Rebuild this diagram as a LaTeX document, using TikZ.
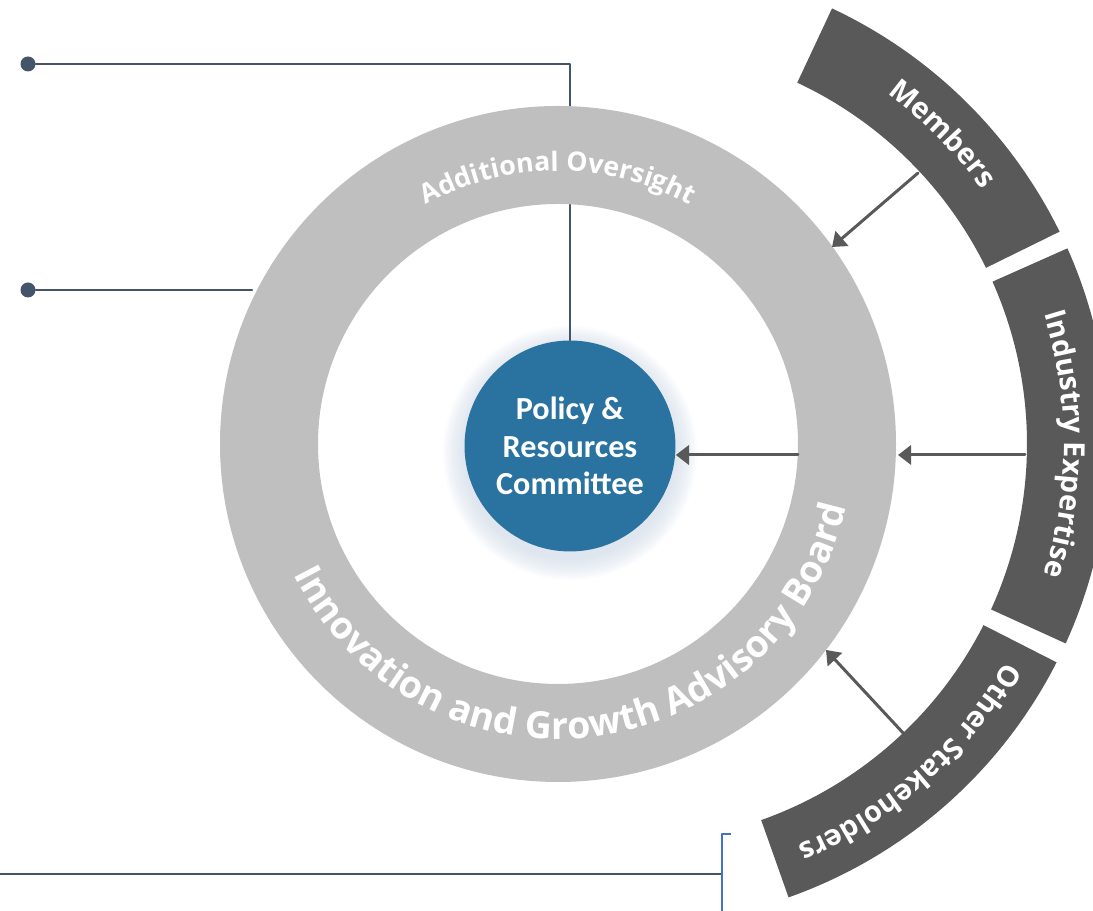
\documentclass[tikz,border=0pt]{standalone}
\usepackage{fontspec}
\setmainfont{Carlito}
\newfontfamily\arcfont{Open Sans}
\usetikzlibrary{arrows.meta,decorations.text}
\definecolor{ringgray}{HTML}{BFBFBF}
\definecolor{seggray}{HTML}{595959}
\definecolor{prblue}{HTML}{2A72A0}
\definecolor{linkslate}{HTML}{44546A}
\definecolor{bracketblue}{HTML}{4472C4}
\definecolor{glowblue}{HTML}{C5D3E2}

\begin{document}
\begin{tikzpicture}[line cap=round,line join=round,x=0.02cm,y=0.02cm,
  link/.style={draw=linkslate,line width=1.5pt},
  dot/.style={circle,fill=linkslate,inner sep=0pt,minimum size=0.3cm},
  flow/.style={draw=seggray,line width=1.7pt,-{Triangle[length=7.5pt,width=11pt]}},
  ringtext/.style={decorate,decoration={text along path,text align=center,text={#1}}}]
\clip(0, 0)rectangle(1093, 911);

\coordinate (ctr) at (558, 467);
\coordinate (outc) at (628, 467);

% committee in the middle
\foreach \k in {1,...,10}
  \fill[glowblue,opacity=0.08] (570, 458) circle[radius=105+2.2*\k];
\node[circle,fill=prblue,inner sep=0pt,minimum size=4.22cm,text=white,align=center,
  font=\fontsize{18.3}{21.5}\selectfont\bfseries] (pr) at (570, 465) {Policy \&\\Resources\\Committee};

% lines from the left
\node[dot] (dtop) at (28, 847) {};
\node[dot] (dmid) at (28, 621) {};
\coordinate (ktop) at (570, 847);
\coordinate (kmid) at (252, 621);
\draw[link] (dtop) -- (ktop) -- (pr);
\draw[link] (dmid) -- (kmid);
\coordinate (b0) at (0, 37);
\coordinate (b1) at (722, 37);
\draw[link,line width=1.2pt] (b0) -- (b1);
\coordinate (br0) at (722, 0);
\coordinate (br1) at (722, 77);
\coordinate (br2) at (731, 77);
\draw[bracketblue,line width=0.8pt,line cap=butt] (br2) -- (br1) -- (br0);

% ring
\fill[ringgray,even odd rule] (ctr) circle[radius=338] (ctr) circle[radius=240];

% outer segments
\foreach \a/\b in {26.2/64.9, -24.5/24, -70.5/-27}
  \fill[seggray] ([shift={(\a:399)}]outc) arc[start angle=\a, end angle=\b, radius=399]
    -- ([shift={(\b:481)}]outc) arc[start angle=\b, end angle=\a, radius=481] -- cycle;

% arrows
\coordinate (mA) at (918, 738);
\coordinate (mB) at (832, 664);
\coordinate (iA) at (1025, 456);
\coordinate (iB) at (898, 456);
\coordinate (oA) at (905, 176);
\coordinate (oB) at (826, 261);
\coordinate (cA) at (798, 456);
\draw[flow] (mA) -- (mB);
\draw[flow] (iA) -- (iB);
\draw[flow] (oA) -- (oB);
\draw[flow] (cA) -- (cA -| pr.east);

% texts on the rings
\path[ringtext={|\arcfont\fontsize{15.2}{18}\selectfont\bfseries\color{white}|Additional Oversight}]
  ([shift={(150:273)}]ctr) arc[start angle=150, end angle=30, radius=273];
\path[ringtext={|\arcfont\fontsize{21.3}{24}\selectfont\bfseries\color{white}|Innovation and Growth Advisory Board}]
  ([shift={(177:295)}]ctr) arc[start angle=177, end angle=377, radius=295];
\path[ringtext={|\arcfont\fontsize{16.5}{20}\selectfont\bfseries\color{white}|Members}]
  ([shift={(84.6:436)}]outc) arc[start angle=84.6, end angle=4.6, radius=436];
\path[ringtext={|\arcfont\fontsize{16.5}{20}\selectfont\bfseries\color{white}|Industry Expertise}]
  ([shift={(40:436)}]outc) arc[start angle=40, end angle=-40, radius=436];
\path[ringtext={|\arcfont\fontsize{16.5}{20}\selectfont\bfseries\color{white}|Other Stakeholders}]
  ([shift={(-8.5:436)}]outc) arc[start angle=-8.5, end angle=-88.5, radius=436];

\end{tikzpicture}
\end{document}
